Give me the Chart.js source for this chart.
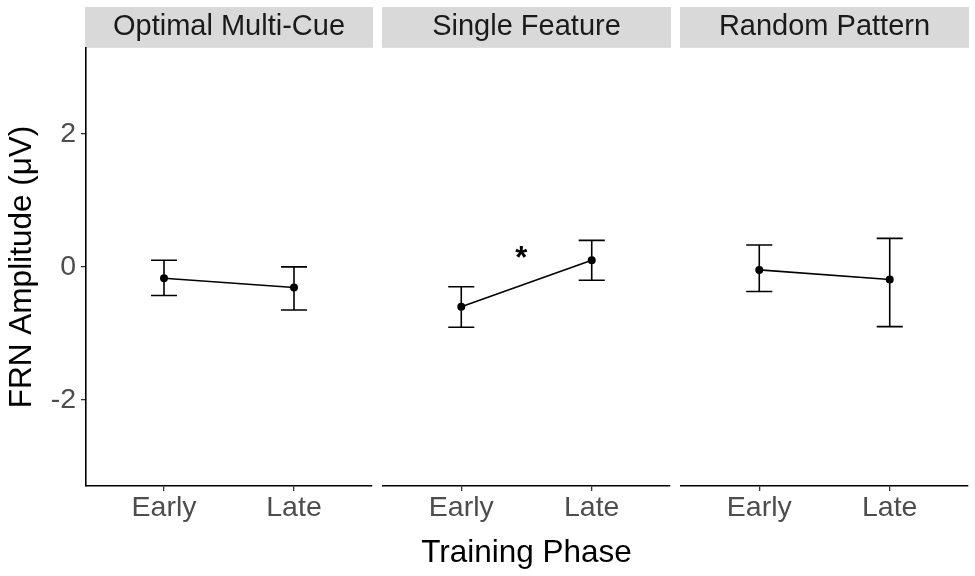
<!DOCTYPE html>
<html>
<head>
<meta charset="utf-8">
<script src="https://cdn.jsdelivr.net/npm/chart.js@4"></script>
<style>
  html, body { margin: 0; padding: 0; background: #ffffff; }
  #wrap { position: relative; width: 975px; height: 576px; overflow: hidden; }
  .panel { position: absolute; top: 0; height: 576px; }
</style>
</head>
<body>
<div id="wrap">
  <div class="panel" style="left:0px;width:378px;"><canvas id="c0"></canvas></div>
  <div class="panel" style="left:377px;width:299px;"><canvas id="c1"></canvas></div>
  <div class="panel" style="left:675px;width:300px;"><canvas id="c2"></canvas></div>
</div>
<script>
// ---- data ----
const facetNames = ['Optimal Multi-Cue', 'Single Feature', 'Random Pattern'];
const phaseLabels = ['Early', 'Late'];
const yTicks = [-2, 0, 2];

const meanOptimal = [-0.17, -0.31];
const meanSingle  = [-0.60, 0.10];
const meanRandom  = [-0.045, -0.19];

const lowerOptimal = [-0.43, -0.65];
const lowerSingle  = [-0.91, -0.20];
const lowerRandom  = [-0.37, -0.90];

const upperOptimal = [0.10, 0.00];
const upperSingle  = [-0.30, 0.40];
const upperRandom  = [0.33, 0.43];

const sigFacet = 1;       // "Single Feature"
const sigPosition = 1.46; // between Early and Late
const sigValue = 0.19;
const sigLabel = '*';

const means = [meanOptimal, meanSingle, meanRandom];
const lowers = [lowerOptimal, lowerSingle, lowerRandom];
const uppers = [upperOptimal, upperSingle, upperRandom];

const FONT = '"Liberation Sans", Arial, Helvetica, sans-serif';

const stripPlugin = {
  id: 'strip',
  beforeDraw(chart) {
    const tb = chart.titleBlock;
    const ca = chart.chartArea;
    if (!tb) return;
    const ctx = chart.ctx;
    ctx.save();
    ctx.fillStyle = '#d9d9d9';
    ctx.fillRect(ca.left - 1, tb.top, ca.right - ca.left + 2, tb.height);
    ctx.restore();
  }
};

const errorBarPlugin = {
  id: 'errorBars',
  beforeDatasetsDraw(chart) {
    const idx = chart.options.plugins.errorBars.facet;
    const xs = chart.scales.x, ys = chart.scales.y;
    const ctx = chart.ctx;
    ctx.save();
    ctx.strokeStyle = '#000000';
    ctx.lineWidth = 1.6;
    for (let i = 0; i < phaseLabels.length; i++) {
      const x = xs.getPixelForValue(i + 1);
      const half = xs.getPixelForValue(i + 1.1) - x;
      const yl = ys.getPixelForValue(lowers[idx][i]);
      const yu = ys.getPixelForValue(uppers[idx][i]);
      ctx.beginPath();
      ctx.moveTo(x, yl); ctx.lineTo(x, yu);
      ctx.moveTo(x - half, yl); ctx.lineTo(x + half, yl);
      ctx.moveTo(x - half, yu); ctx.lineTo(x + half, yu);
      ctx.stroke();
    }
    if (idx === sigFacet) {
      const size = 31;
      ctx.fillStyle = '#000000';
      ctx.font = 'bold ' + size + 'px ' + FONT;
      ctx.textAlign = 'center';
      ctx.textBaseline = 'alphabetic';
      ctx.fillText(sigLabel, xs.getPixelForValue(sigPosition), ys.getPixelForValue(sigValue) + 0.43 * size);
    }
    ctx.restore();
  }
};

function makeChart(idx) {
  const isFirst = idx === 0;
  const isMiddle = idx === 1;
  const padLeft = isFirst ? 0 : 6;
  const padRight = idx === 2 ? 7 : 6;
  return new Chart(document.getElementById('c' + idx), {
    type: 'line',
    data: {
      datasets: [{
        data: means[idx].map((v, i) => ({ x: i + 1, y: v })),
        borderColor: '#000000',
        borderWidth: 1.6,
        backgroundColor: '#000000',
        pointBackgroundColor: '#000000',
        pointBorderColor: '#000000',
        pointRadius: 4,
        pointBorderWidth: 0,
        fill: false,
        tension: 0
      }]
    },
    options: {
      responsive: true,
      maintainAspectRatio: false,
      animation: false,
      events: [],
      layout: { padding: { top: 7, left: padLeft, right: padRight, bottom: 0 } },
      plugins: {
        legend: { display: false },
        tooltip: { enabled: false },
        title: {
          display: true,
          text: facetNames[idx],
          fullSize: false,
          color: '#1a1a1a',
          font: { family: FONT, size: 29, weight: 'normal', lineHeight: 1.2 },
          padding: { top: 3, bottom: 3 }
        },
        errorBars: { facet: idx }
      },
      scales: {
        x: {
          type: 'linear',
          min: 0.4,
          max: 2.6,
          afterBuildTicks(scale) { scale.ticks = [{ value: 1 }, { value: 2 }]; },
          afterFit(scale) { scale.height = 90; },
          ticks: {
            callback: (v) => phaseLabels[v - 1],
            color: '#4d4d4d',
            font: { family: FONT, size: 28.5 },
            padding: 0,
            maxRotation: 0,
            autoSkip: false
          },
          grid: { display: true, drawOnChartArea: false, drawTicks: true, tickLength: 5, color: '#333333', lineWidth: 1.3 },
          border: { display: true, color: '#000000', width: 1.6 },
          title: {
            display: isMiddle,
            text: 'Training Phase',
            color: '#000000',
            font: { family: FONT, size: 31.5 },
            padding: { top: 0, bottom: 4 }
          }
        },
        y: {
          type: 'linear',
          display: isFirst,
          min: -3.3,
          max: 3.3,
          afterBuildTicks(scale) { scale.ticks = yTicks.map(v => ({ value: v })); },
          afterFit(scale) { if (isFirst) scale.width = 86; },
          ticks: {
            color: '#4d4d4d',
            font: { family: FONT, size: 28.5 },
            padding: 5
          },
          grid: { display: true, drawOnChartArea: false, drawTicks: true, tickLength: 5, color: '#333333', lineWidth: 1.3 },
          border: { display: true, color: '#000000', width: 1.6 },
          title: {
            display: isFirst,
            text: 'FRN Amplitude (μV)',
            color: '#000000',
            font: { family: FONT, size: 31.5 },
            padding: { top: 3, bottom: 0 }
          }
        }
      }
    },
    plugins: [stripPlugin, errorBarPlugin]
  });
}

for (let i = 0; i < 3; i++) makeChart(i);
</script>
</body>
</html>
